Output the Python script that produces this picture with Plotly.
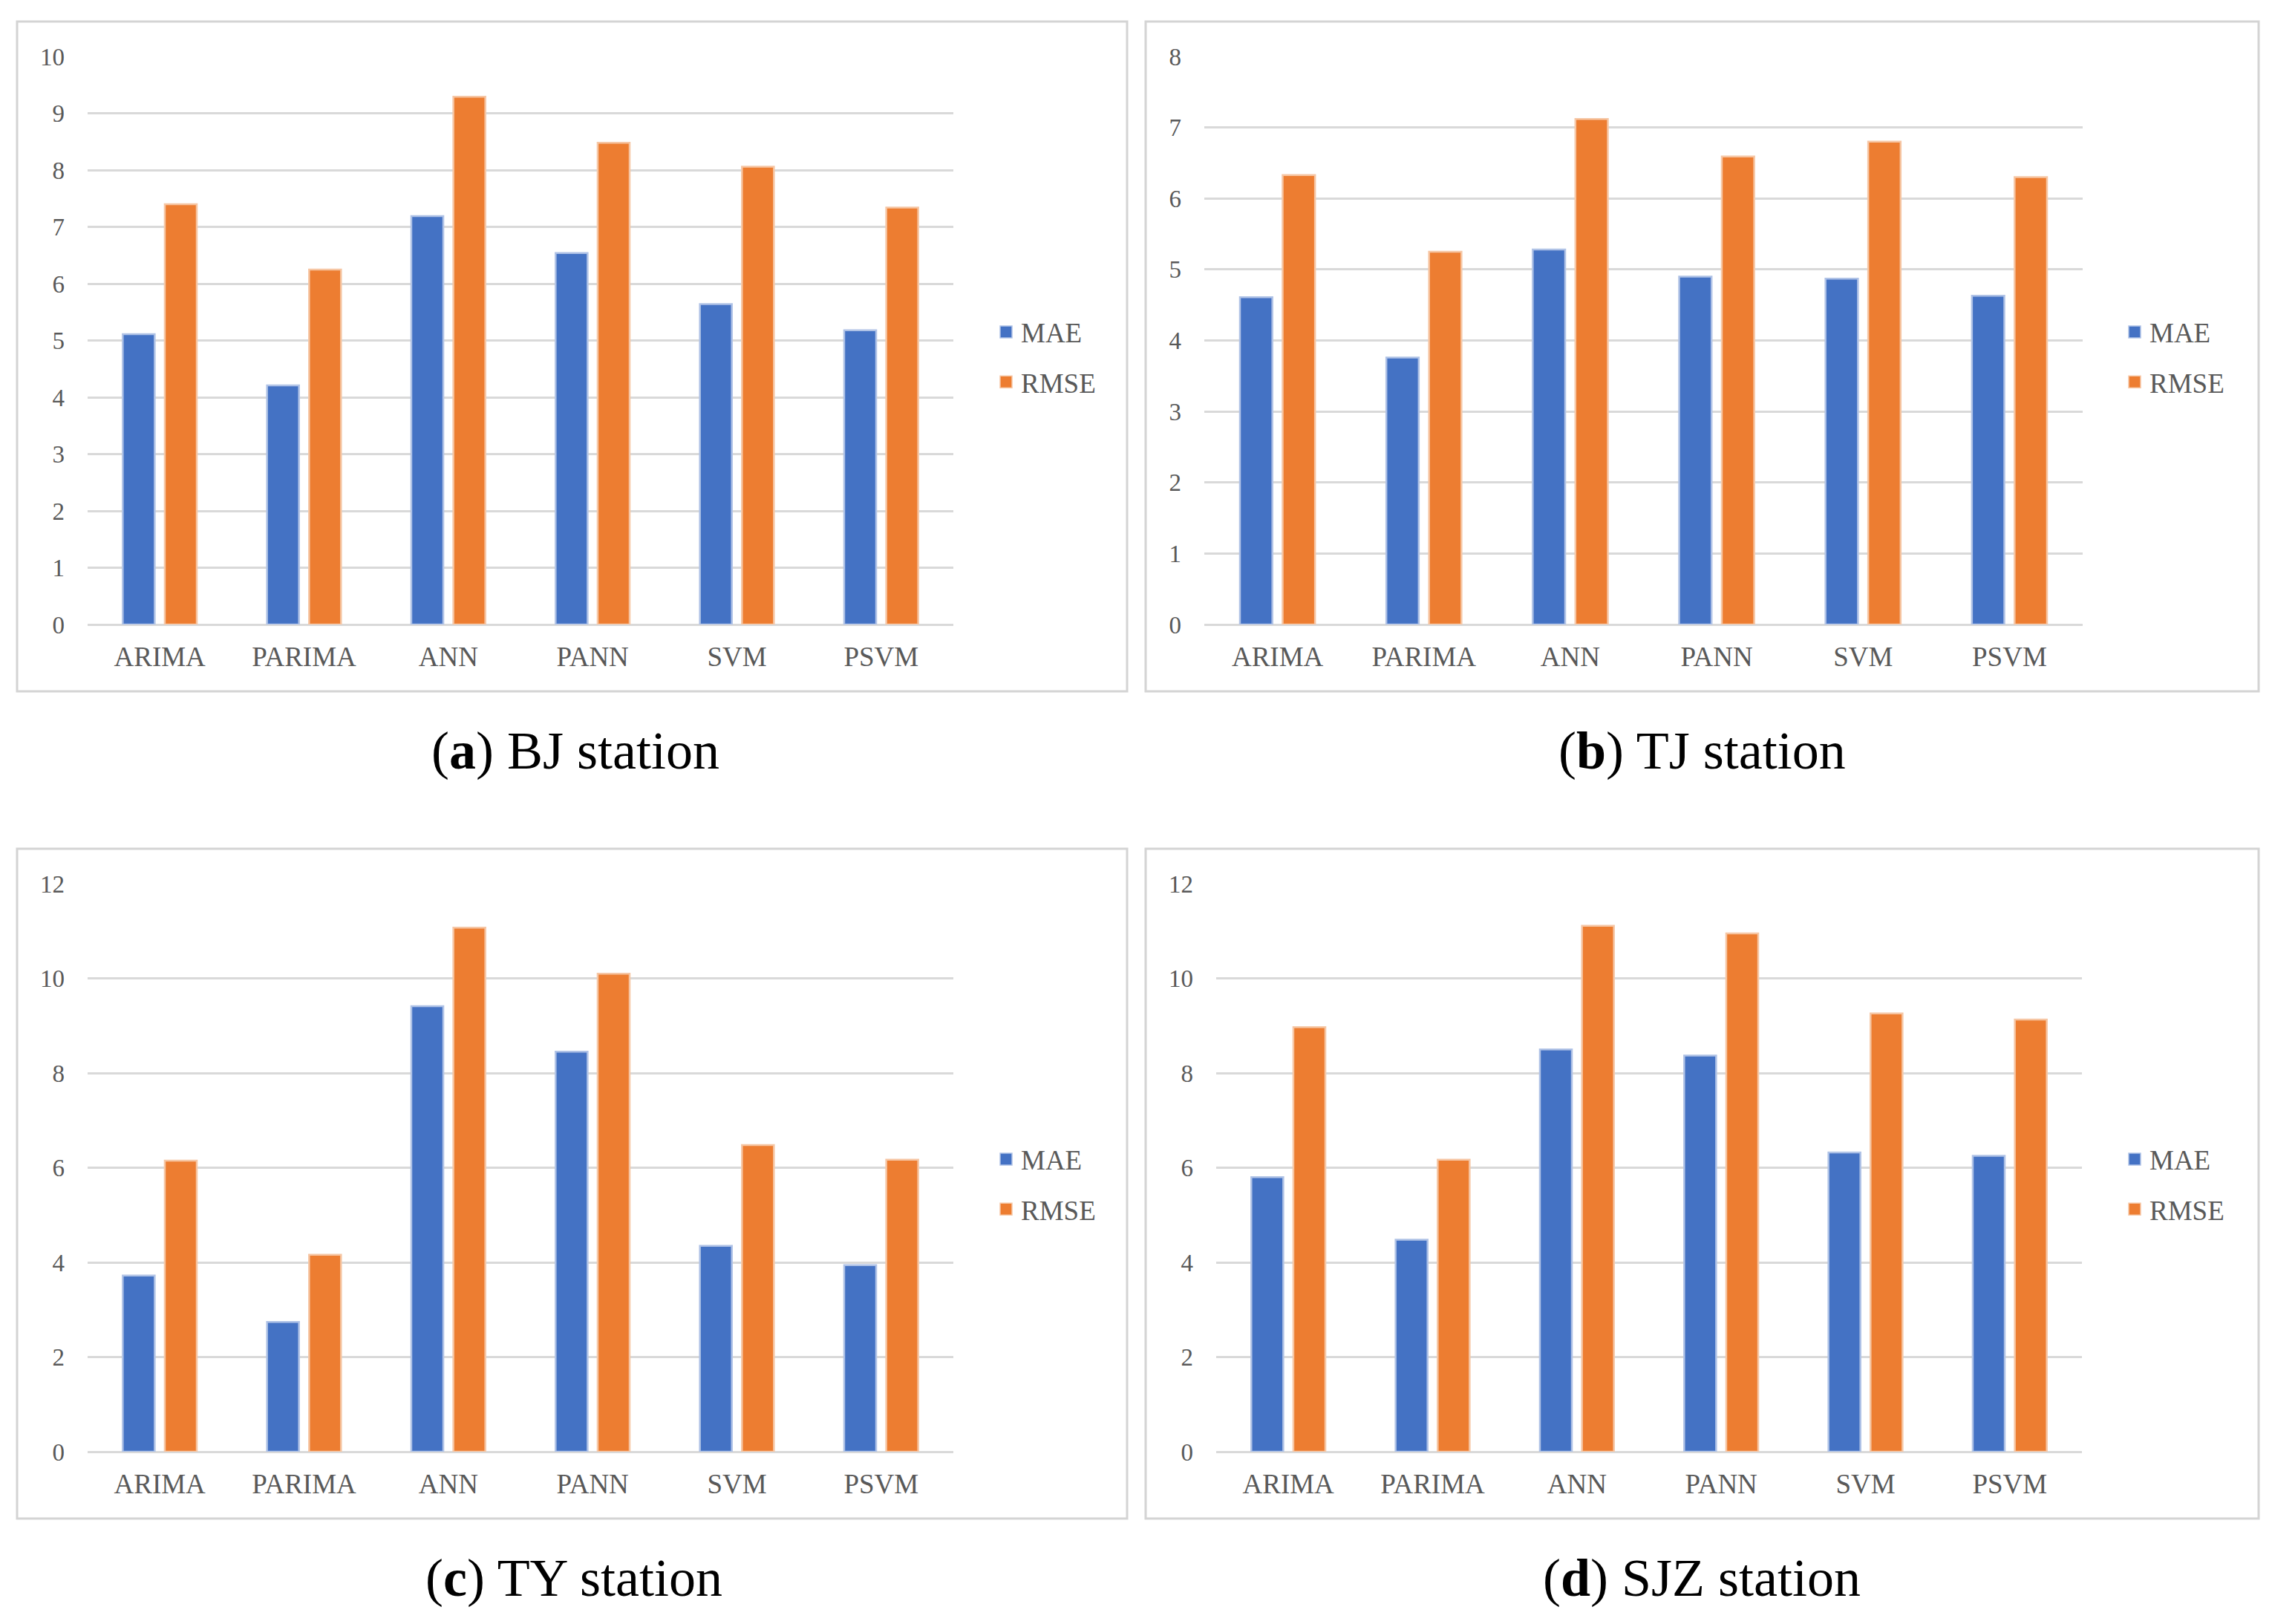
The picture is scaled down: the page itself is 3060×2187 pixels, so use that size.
import plotly.graph_objects as go

W, H = 3060, 2187
OFF = 8  # page body margin shifts everything by 8px

categories = ["ARIMA", "PARIMA", "ANN", "PANN", "SVM", "PSVM"]

bj_mae = [5.11, 4.21, 7.19, 6.54, 5.64, 5.18]
bj_rmse = [7.40, 6.25, 9.29, 8.48, 8.06, 7.34]

tj_mae = [4.61, 3.76, 5.28, 4.90, 4.87, 4.63]
tj_rmse = [6.33, 5.25, 7.12, 6.59, 6.80, 6.30]

ty_mae = [3.72, 2.74, 9.41, 8.45, 4.35, 3.94]
ty_rmse = [6.15, 4.16, 11.07, 10.10, 6.48, 6.17]

sjz_mae = [5.80, 4.48, 8.50, 8.37, 6.32, 6.25]
sjz_rmse = [8.97, 6.17, 11.11, 10.95, 9.26, 9.13]

series_names = ["MAE", "RMSE"]

captions = ["(<b>a</b>) BJ station", "(<b>b</b>) TJ station",
            "(<b>c</b>) TY station", "(<b>d</b>) SJZ station"]

y_ranges = [(0, 10, 1), (0, 8, 1), (0, 12, 2), (0, 12, 2)]

BLUE = "#4472C4"
ORANGE = "#ED7D31"
BLUE_EDGE = "#AFC2E6"
ORANGE_EDGE = "#F6C6A4"
GRID = "#D9D9D9"
TICK = "#595959"
SERIF = "Liberation Serif"


def px_x(v):
    return (v - OFF) / W


def px_y(v):
    return 1 - (v - OFF) / H


# plot areas in reference pixel coords (x0, x1, ytop, ybottom)
plot_areas = [
    (118, 1284, 76, 841),
    (1622, 2805, 76, 841),
    (118, 1284, 1190, 1955),
    (1638, 2804, 1190, 1955),
]
boxes = [
    (23, 1518, 29, 931),
    (1543, 3042, 29, 931),
    (23, 1518, 1143, 2045),
    (1543, 3042, 1143, 2045),
]
caption_pos = [(775, 1011), (2292, 1011), (773, 2125), (2292, 2125)]
legend_pos = [(1335, 481), (2855, 481), (1335, 1595), (2855, 1595)]

data = [(bj_mae, bj_rmse), (tj_mae, tj_rmse), (ty_mae, ty_rmse), (sjz_mae, sjz_rmse)]
colors = [BLUE, ORANGE]
edges = [BLUE_EDGE, ORANGE_EDGE]

fig = go.Figure()
layout = {}
shapes = []
annotations = []

for i, pair in enumerate(data):
    n = i + 1
    sfx = "" if n == 1 else str(n)
    leg = "legend" if n == 1 else f"legend{n}"
    for name, vals, col, edge in zip(series_names, pair, colors, edges):
        fig.add_trace(go.Bar(x=categories, y=vals, name=name,
                             marker=dict(color=col, line=dict(color=edge, width=2.5)),
                             xaxis=f"x{sfx}", yaxis=f"y{sfx}", showlegend=False,
                             legendgroup=f"{name}{n}"))
        # legend swatch (no data drawn)
        fig.add_trace(go.Scatter(x=[None], y=[None], mode="markers", name=name,
                                 marker=dict(symbol="square", size=20, color=col,
                                             line=dict(color=edge, width=1.5)),
                                 xaxis=f"x{sfx}", yaxis=f"y{sfx}", legend=leg,
                                 legendgroup=f"{name}{n}", hoverinfo="skip"))
    x0, x1, yt, yb = plot_areas[i]
    lo, hi, dt = y_ranges[i]
    layout[f"xaxis{sfx}"] = dict(
        domain=[px_x(x0), px_x(x1)], anchor=f"y{sfx}", automargin=False,
        showgrid=False, showline=False, zeroline=False, ticks="",
        tickfont=dict(family=SERIF, size=37, color=TICK),
        ticklabelstandoff=18, range=[-0.5, 5.5],
        type="category", categoryorder="array", categoryarray=categories,
    )
    layout[f"yaxis{sfx}"] = dict(
        domain=[px_y(yb), px_y(yt)], anchor=f"x{sfx}", automargin=False,
        range=[lo, hi], dtick=dt, tick0=0,
        showgrid=True, gridcolor=GRID, gridwidth=3,
        zeroline=True, zerolinecolor=GRID, zerolinewidth=3,
        showline=False, ticks="",
        tickfont=dict(family=SERIF, size=33, color=TICK),
        ticklabelstandoff=30,
    )
    lx, ly = legend_pos[i]
    layout[leg] = dict(
        x=px_x(lx), y=px_y(ly), xanchor="left", yanchor="middle",
        xref="paper", yref="paper",
        font=dict(family=SERIF, size=37, color=TICK),
        tracegroupgap=16, bgcolor="rgba(0,0,0,0)",
    )
    bx0, bx1, byt, byb = boxes[i]
    shapes.append(dict(type="rect", xref="paper", yref="paper",
                       x0=px_x(bx0), x1=px_x(bx1), y0=px_y(byb), y1=px_y(byt),
                       line=dict(color="#D4D4D4", width=3), layer="below"))
    cx, cy = caption_pos[i]
    annotations.append(dict(text=captions[i], x=px_x(cx), y=px_y(cy),
                            xref="paper", yref="paper", showarrow=False,
                            xanchor="center", yanchor="middle",
                            font=dict(family=SERIF, size=72, color="black")))

fig.update_layout(
    width=W, height=H,
    margin=dict(l=0, r=0, t=0, b=0, pad=0, autoexpand=False),
    paper_bgcolor="white", plot_bgcolor="white",
    barmode="group", bargap=0.417, bargroupgap=0.24,
    shapes=shapes, annotations=annotations,
    **layout,
)

fig.write_html("out.html")
